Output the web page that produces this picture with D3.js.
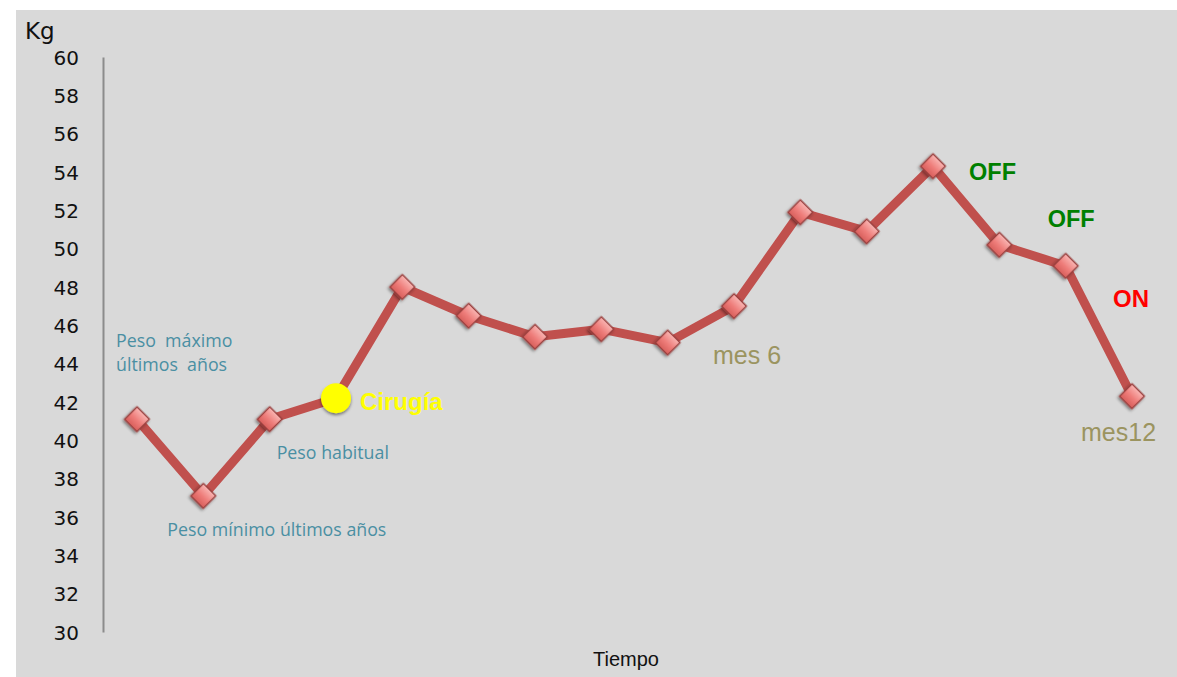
<!DOCTYPE html>
<html>
<head>
<meta charset="utf-8">
<script src="https://cdn.jsdelivr.net/npm/d3@7"></script>
<style>
  body { margin: 0; background: #fff; }
  svg { display: block; }
</style>
</head>
<body>
<div id="chart-area"></div>
<script>
// Data
const periods = d3.range(16);
const weights = [41.1, 37.1, 41.1, 42.2, 48.0, 46.5, 45.4, 45.8, 45.1, 47.0, 51.9, 50.9, 54.3, 50.2, 49.1, 42.3];
const yTicks = [30, 32, 34, 36, 38, 40, 42, 44, 46, 48, 50, 52, 54, 56, 58, 60];
const surgeryIndex = 3;

// Notes on the chart: [text, point index, dx, dy, kind]
const notes = [
    ['Peso  máximo', 0, -21, -72, 'blue'],
    ['últimos  años', 0, -21, -48, 'blue'],
    ['Peso mínimo últimos años', 1, -36, 40, 'blue'],
    ['Peso habitual', 2, 7, 40, 'blue'],
    ['Cirugía', 3, 24, 12, 'yellow'],
    ['mes 6', 9, -21, 58, 'olive'],
    ['OFF', 12, 36, 14, 'green'],
    ['OFF', 14, -18, -39, 'green'],
    ['ON', 15, -19, -89, 'red'],
    ['mes12', 15, -51, 45, 'olive']
];

const W = 1177, H = 677;

const svg = d3.select('#chart-area')
    .append('svg')
    .attr('width', W)
    .attr('height', H);

const defs = svg.append('defs');
const grad = defs.append('linearGradient')
    .attr('id', 'mk')
    .attr('x1', 0).attr('y1', 0).attr('x2', 0).attr('y2', 1);
grad.append('stop').attr('offset', '0%').attr('stop-color', '#f9b4b2');
grad.append('stop').attr('offset', '55%').attr('stop-color', '#ee7c79');
grad.append('stop').attr('offset', '100%').attr('stop-color', '#d8605d');

const shadow = defs.append('filter').attr('id', 'sh')
    .attr('x', '-50%').attr('y', '-50%').attr('width', '200%').attr('height', '200%');
shadow.append('feDropShadow')
    .attr('dx', 0).attr('dy', 2).attr('stdDeviation', 1.6)
    .attr('flood-color', '#000').attr('flood-opacity', 0.45);

// Gray plot background
svg.append('rect')
    .attr('x', 16).attr('y', 10)
    .attr('width', W - 16).attr('height', H - 10)
    .attr('fill', '#d9d9d9');

const x = d3.scalePoint()
    .domain(periods)
    .range([137, 1132]);

const y = d3.scaleLinear()
    .domain([30, 60])
    .range([632, 57]);

// Y axis
const yAxisCall = d3.axisLeft(y)
    .tickValues(yTicks)
    .tickSize(0)
    .tickPadding(24);
const yAxis = svg.append('g')
    .attr('class', 'y-axis')
    .attr('transform', 'translate(103, 0)')
    .call(yAxisCall);
yAxis.select('.domain')
    .attr('stroke', '#8c8c8c')
    .attr('stroke-width', 2);
yAxis.selectAll('text')
    .attr('font-family', 'DejaVu Sans, sans-serif')
    .attr('font-size', '20px')
    .attr('fill', '#111')
    .attr('dy', '0.36em');

// Axis titles
svg.append('text')
    .attr('x', 25).attr('y', 39)
    .attr('font-family', 'DejaVu Sans, sans-serif')
    .attr('font-size', '23px')
    .attr('fill', '#111')
    .text('Kg');

svg.append('text')
    .attr('x', 626).attr('y', 666)
    .attr('text-anchor', 'middle')
    .attr('font-family', 'Liberation Sans, Arial, sans-serif')
    .attr('font-size', '20px')
    .attr('fill', '#111')
    .text('Tiempo');

// Line
const line = d3.line()
    .x((d, i) => x(i))
    .y((d) => y(d));

svg.append('path')
    .datum(weights)
    .attr('fill', 'none')
    .attr('stroke', '#c0504d')
    .attr('stroke-width', 9)
    .attr('stroke-linejoin', 'round')
    .attr('d', line);

// Diamond markers
const diamond = d3.symbol().type(d3.symbolSquare).size(300);
svg.selectAll('.marker')
    .data(weights)
    .enter()
    .append('path')
    .attr('class', 'marker')
    .attr('d', diamond)
    .attr('transform', (d, i) => 'translate(' + x(i) + ',' + y(d) + ') rotate(45)')
    .attr('fill', 'url(#mk)')
    .attr('stroke', '#9b3f3d')
    .attr('stroke-width', 1.5)
    .attr('filter', 'url(#sh)');

// Surgery point
svg.append('circle')
    .attr('cx', x(surgeryIndex))
    .attr('cy', y(weights[surgeryIndex]))
    .attr('r', 15)
    .attr('fill', '#ffff00')
    .attr('filter', 'url(#sh)');

// Annotations
const styles = {
    blue: { fill: '#4a8fa3', font: 'Open Sans, sans-serif', size: '17.8px', weight: 'normal' },
    yellow: { fill: '#ffff00', font: 'Liberation Sans, Arial, sans-serif', size: '24px', weight: 'bold' },
    olive: { fill: '#9b9460', font: 'Liberation Sans, Arial, sans-serif', size: '25px', weight: 'normal' },
    green: { fill: '#008000', font: 'Liberation Sans, Arial, sans-serif', size: '23.5px', weight: 'bold' },
    red: { fill: '#ff0000', font: 'Liberation Sans, Arial, sans-serif', size: '24px', weight: 'bold' }
};

svg.selectAll('.note')
    .data(notes)
    .enter()
    .append('text')
    .attr('class', 'note')
    .attr('x', (d) => x(d[1]) + d[2])
    .attr('y', (d) => y(weights[d[1]]) + d[3])
    .attr('font-family', (d) => styles[d[4]].font)
    .attr('font-size', (d) => styles[d[4]].size)
    .attr('font-weight', (d) => styles[d[4]].weight)
    .attr('fill', (d) => styles[d[4]].fill)
    .style('white-space', 'pre')
    .text((d) => d[0]);
</script>
</body>
</html>
